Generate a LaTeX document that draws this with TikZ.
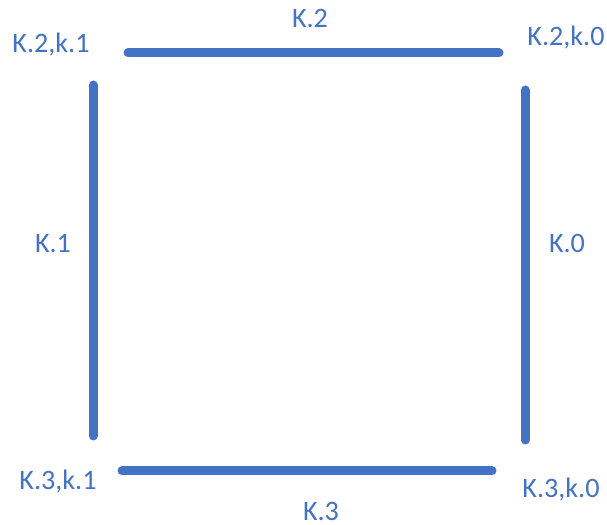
\documentclass[tikz,border=0pt]{standalone}
\usepackage{fontspec}
\setmainfont{Carlito}
\definecolor{sideblue}{HTML}{4472C4}

\begin{document}
\begin{tikzpicture}[x=0.025cm,y=-0.025cm,line cap=round,
    side/.style={sideblue,line width=6.4pt},
    lbl/.style={text=sideblue,anchor=base,inner sep=0pt,font=\fontsize{20}{24}\selectfont}]
  \useasboundingbox (0,0) rectangle (607,525);
  % ends of the four sides
  \coordinate (TL) at (128,53);
  \coordinate (TR) at (499,53);
  \coordinate (LT) at (93,85);
  \coordinate (LB) at (93,436);
  \coordinate (RT) at (525,90);
  \coordinate (RB) at (525,440);
  \coordinate (BL) at (122,471);
  \coordinate (BR) at (492,471);
  \draw[side] (TL) -- (TR);
  \draw[side] (LT) -- (LB);
  \draw[side] (RT) -- (RB);
  \draw[side] (BL) -- (BR);
  % labels
  \node[lbl] (k2) at (310,28) {K.2};
  \node[lbl] (k2k1) at (51,53) {K.2,k.1};
  \node[lbl] (k2k0) at (566,46) {K.2,k.0};
  \node[lbl] (k1) at (53,253) {K.1};
  \node[lbl] (k0) at (567,253) {K.0};
  \node[lbl] (k3k1) at (58,489) {K.3,k.1};
  \node[lbl] (k3k0) at (561,497) {K.3,k.0};
  \node[lbl] (k3) at (321,520) {K.3};
\end{tikzpicture}
\end{document}
